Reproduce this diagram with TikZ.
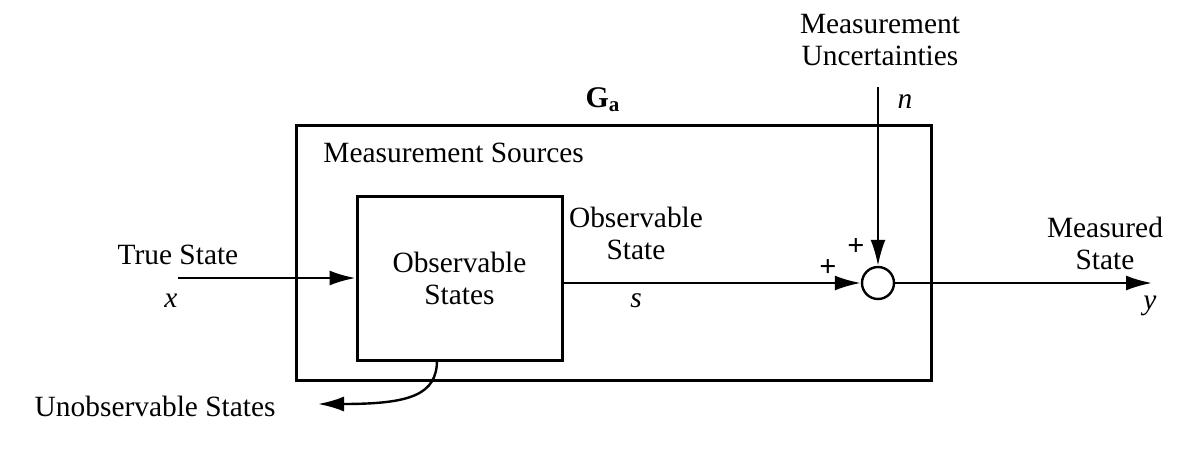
\documentclass[tikz,border=0pt]{standalone}
\usepackage{fontspec}
\setmainfont{Liberation Serif}
\usetikzlibrary{arrows.meta}
\begin{document}
\begin{tikzpicture}[x=0.5pt,y=-0.5pt,
  box/.style={draw,line width=1.5pt},
  wire/.style={line width=1.2pt},
  tip/.style={-{Latex[length=13pt,width=7.5pt]}},
  lbl/.style={font=\fontsize{14.7}{15}\selectfont,align=center,inner sep=0pt},
  var/.style={font=\fontsize{14.7}{15}\selectfont\itshape,inner sep=0pt}]
\useasboundingbox (0,0) rectangle (1180,451);
\node[box,minimum width=317.5pt,minimum height=127.5pt,inner sep=0pt] (outer) at (613.5,252.5) {};
\node[box,minimum width=102.5pt,minimum height=82pt,inner sep=0pt,lbl] (inner) at (459.5,278) {Observable\\[1pt]States};
\node[lbl,anchor=west] (ms) at (323,153) {Measurement Sources};
\node[font=\fontsize{15}{15}\selectfont\bfseries,inner sep=0pt] (ga) at (603,100) {G\textsubscript{a}};
\node[draw,circle,wire,minimum size=16pt,inner sep=0pt] (sum) at (878,283) {};
\coordinate (in) at (178,278);
\coordinate (nin) at (878,87);
\coordinate (out) at (1152,283);
\coordinate (uo) at (318,404);
\draw[wire,tip] (in) -- (inner.west |- in);
\draw[wire,tip] (inner.east |- sum) -- (sum.west);
\draw[wire,tip] (nin) -- (sum.north);
\draw[wire,tip] (sum.east) -- (out);
\draw[wire,tip] (437,360) .. controls (437,395) and (410,404) .. (uo);
\node[lbl] (ts) at (178,255) {True State};
\node[var] (x) at (171,301) {x};
\node[lbl] (os) at (636,233) {Observable\\[1pt]State};
\node[var] (s) at (636,301) {s};
\node[lbl] (mu) at (880,40) {Measurement\\[1pt]Uncertainties};
\node[var] (n) at (905,102) {n};
\node[lbl] (mst) at (1105,243) {Measured\\[1pt]State};
\node[var] (y) at (1150,306) {y};
\node[lbl,anchor=east] (us) at (276,406) {Unobservable States};
\node[font=\fontsize{15}{15}\selectfont\bfseries,inner sep=0pt] (p1) at (828,268) {+};
\node[font=\fontsize{15}{15}\selectfont\bfseries,inner sep=0pt] (p2) at (856,247) {+};
\end{tikzpicture}
\end{document}
